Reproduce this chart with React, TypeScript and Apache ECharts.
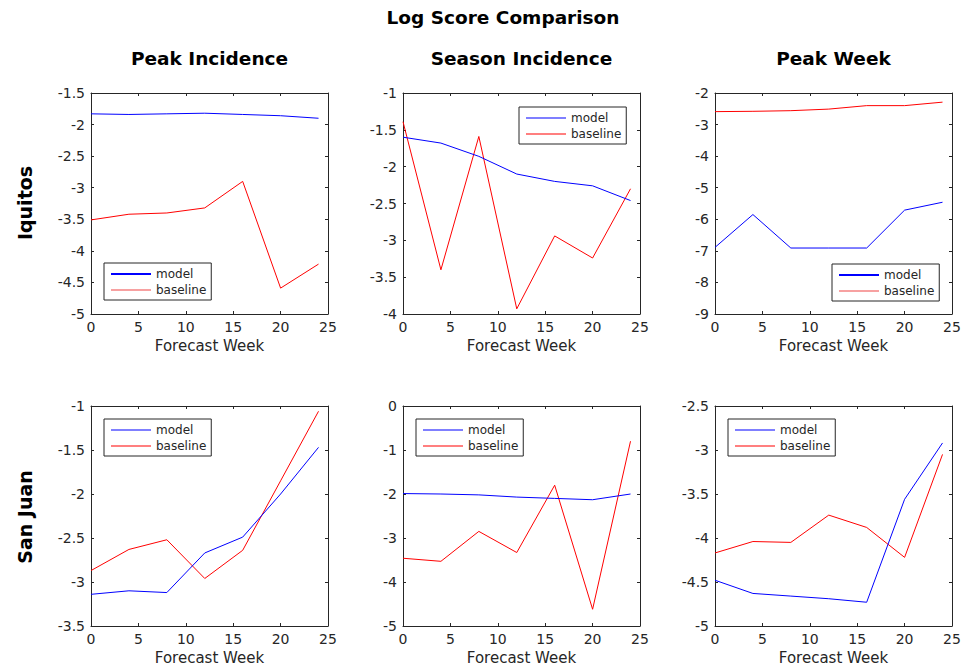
import React, { useEffect, useRef } from "react";
import * as echarts from "echarts";

const weeks = [0, 4, 8, 12, 16, 20, 24];

const iqPeakIncModel = [-1.83, -1.84, -1.83, -1.82, -1.84, -1.86, -1.9];
const iqPeakIncBase = [-3.51, -3.42, -3.4, -3.32, -2.9, -4.59, -4.21];
const iqSeasonModel = [-1.6, -1.68, -1.86, -2.1, -2.2, -2.26, -2.46];
const iqSeasonBase = [-1.39, -3.4, -1.59, -3.93, -2.94, -3.24, -2.3];
const iqPeakWeekModel = [-6.89, -5.85, -6.91, -6.91, -6.91, -5.71, -5.46];
const iqPeakWeekBase = [-2.59, -2.58, -2.56, -2.51, -2.4, -2.4, -2.29];

const sjPeakIncModel = [-3.14, -3.1, -3.12, -2.67, -2.49, -2.0, -1.47];
const sjPeakIncBase = [-2.87, -2.63, -2.52, -2.96, -2.64, -1.85, -1.06];
const sjSeasonModel = [-1.99, -2.0, -2.02, -2.07, -2.1, -2.13, -2.0];
const sjSeasonBase = [-3.46, -3.53, -2.85, -3.33, -1.8, -4.62, -0.8];
const sjPeakWeekModel = [-4.48, -4.63, -4.66, -4.69, -4.73, -3.56, -2.92];
const sjPeakWeekBase = [-4.17, -4.04, -4.05, -3.74, -3.88, -4.22, -3.05];

const columnTitles = ["Peak Incidence", "Season Incidence", "Peak Week"];
const rowTitles = ["Iquitos", "San Juan"];
const seriesNames = ["model", "baseline"];
const xLabel = "Forecast Week";
const mainTitle = "Log Score Comparison";

// y ranges per panel: [min, max, interval]
const yRanges = [
  [-5, -1.5, 0.5],
  [-4, -1, 0.5],
  [-9, -2, 1],
  [-3.5, -1, 0.5],
  [-5, 0, 1],
  [-5, -2.5, 0.5],
];
const xRange = [0, 25, 5];

const panelModel = [iqPeakIncModel, iqSeasonModel, iqPeakWeekModel, sjPeakIncModel, sjSeasonModel, sjPeakWeekModel];
const panelBase = [iqPeakIncBase, iqSeasonBase, iqPeakWeekBase, sjPeakIncBase, sjSeasonBase, sjPeakWeekBase];

// layout
const gridLefts = [91, 403, 715];
const gridTops = [93, 406];
const gridW = 237;
const gridH = 221;
const legendPos = [
  [104, 263],
  [519, 107],
  [832, 264],
  [104, 419],
  [416, 419],
  [728, 419],
];
const legendPink = [true, false, true, false, false, false];

const TXT = "#262626";
const FONT = "DejaVu Sans";

export default function App() {
  const ref = useRef<HTMLDivElement>(null);
  useEffect(() => {
    if (!ref.current) return;
    const chart = echarts.init(ref.current, undefined, { renderer: "svg" });
    const grids: any[] = [];
    const xAxes: any[] = [];
    const yAxes: any[] = [];
    const series: any[] = [];
    const legends: any[] = [];
    for (let i = 0; i < 6; i++) {
      const r = Math.floor(i / 3);
      const c = i % 3;
      grids.push({ left: gridLefts[c], top: gridTops[r], width: gridW, height: gridH, containLabel: false });
      const [ymin, ymax, yint] = yRanges[i];
      const axLine = { show: true, onZero: false, lineStyle: { color: TXT, width: 1 } };
      const tick = { show: true, inside: true, length: 3, lineStyle: { color: TXT, width: 1 } };
      xAxes.push({
        type: "value", gridIndex: i, position: "bottom", min: xRange[0], max: xRange[1], interval: xRange[2],
        axisLine: axLine, axisTick: tick, splitLine: { show: false },
        axisLabel: { color: TXT, fontSize: 14, fontFamily: FONT, margin: 6 },
        name: xLabel, nameLocation: "middle", nameGap: 24,
        nameTextStyle: { color: TXT, fontSize: 15, fontFamily: FONT },
      });
      xAxes.push({
        type: "value", gridIndex: i, position: "top", min: xRange[0], max: xRange[1], interval: xRange[2],
        axisLine: axLine, axisTick: tick, splitLine: { show: false }, axisLabel: { show: false },
      });
      yAxes.push({
        type: "value", gridIndex: i, position: "left", min: ymin, max: ymax, interval: yint,
        axisLine: axLine, axisTick: tick, splitLine: { show: false },
        axisLabel: { color: TXT, fontSize: 14, fontFamily: FONT, margin: 6 },
      });
      yAxes.push({
        type: "value", gridIndex: i, position: "right", min: ymin, max: ymax, interval: yint,
        axisLine: axLine, axisTick: tick, splitLine: { show: false }, axisLabel: { show: false },
      });
      const vals = [panelModel[i], panelBase[i]];
      const colors = ["#0000ff", "#ff0000"];
      for (let s = 0; s < 2; s++) {
        series.push({
          type: "line", name: seriesNames[s], xAxisIndex: 2 * i, yAxisIndex: 2 * i,
          data: weeks.map((w, k) => [w, vals[s][k]]),
          showSymbol: false, symbol: "none",
          lineStyle: { color: colors[s], width: 1 }, itemStyle: { color: colors[s] },
          z: s === 0 ? 3 : 2,
        });
      }
      const pink = legendPink[i];
      legends.push({
        orient: "vertical", left: legendPos[i][0], top: legendPos[i][1],
        padding: [3, 5, 2, 7], itemGap: 0, itemWidth: 40, itemHeight: pink ? 2 : 1,
        icon: "rect", backgroundColor: "#fff", borderColor: TXT, borderWidth: 1, borderRadius: 0,
        textStyle: { color: TXT, fontSize: 12, fontFamily: FONT, lineHeight: 16 },
        selectedMode: false,
        data: [
          { name: seriesNames[0], itemStyle: { color: "#0000ff" } },
          { name: seriesNames[1], itemStyle: { color: pink ? "#f7a1a1" : "#ff0000" } },
        ],
      });
    }
    const graphics: any[] = [
      {
        type: "text", x: 503, y: 17,
        style: { text: mainTitle, fill: "#000", font: `bold 18.5px '${FONT}'`, textAlign: "center", textVerticalAlign: "middle" },
      },
    ];
    for (let c = 0; c < 3; c++) {
      graphics.push({
        type: "text", x: gridLefts[c] + gridW / 2, y: 58,
        style: { text: columnTitles[c], fill: "#000", font: `bold 18.5px '${FONT}'`, textAlign: "center", textVerticalAlign: "middle" },
      });
    }
    const rowCenters = [203, 517];
    for (let r = 0; r < 2; r++) {
      graphics.push({
        type: "text", x: 25, y: rowCenters[r], rotation: Math.PI / 2,
        style: { text: rowTitles[r], fill: "#000", font: `bold 19px '${FONT}'`, textAlign: "center", textVerticalAlign: "middle" },
      });
    }
    chart.setOption({
      animation: false,
      backgroundColor: "#fff",
      grid: grids,
      xAxis: xAxes,
      yAxis: yAxes,
      series,
      legend: legends,
      graphic: graphics,
    });
    return () => chart.dispose();
  }, []);
  return <div ref={ref} style={{ position: "fixed", left: 0, top: 0, width: 971, height: 666 }} />;
}
